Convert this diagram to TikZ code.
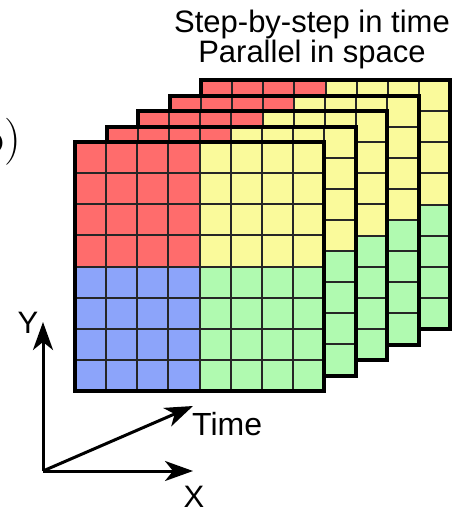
\documentclass[tikz,border=0pt]{standalone}
\usepackage{fontspec}
\newfontfamily\labelfont{Liberation Sans}
\usetikzlibrary{arrows.meta}
\definecolor{cellred}{RGB}{255,108,108}
\definecolor{cellyellow}{RGB}{250,250,155}
\definecolor{cellblue}{RGB}{140,164,250}
\definecolor{cellgreen}{RGB}{176,250,176}

\begin{document}
\begin{tikzpicture}[x=1pt,y=-1pt,
  gridline/.style={line width=2pt,black!85},
  frameline/.style={line width=4pt,black},
  axisarrow/.style={line width=3pt,-{Stealth[length=28pt,width=20pt,inset=8pt]}},
  lbl/.style={font=\labelfont\fontsize{31}{36}\selectfont}]
\useasboundingbox[fill=white] (0,0) rectangle (458,507);
% cut-off panel tag at the left edge
\node[anchor=base east,inner sep=0pt,font=\fontsize{47}{50}\selectfont] (tag) at (21,153) {b)};
% stacked panels, back to front
\foreach \k in {4,3,2,1,0}{
  \begin{scope}[shift={({75+31.5*\k},{142-15.5*\k})}]
    \fill[cellred] (0,0) rectangle (124.5,124.5);
    \fill[cellyellow] (124.5,0) rectangle (249,124.5);
    \fill[cellblue] (0,124.5) rectangle (124.5,249);
    \fill[cellgreen] (124.5,124.5) rectangle (249,249);
    \foreach \i in {1,...,7}{
      \draw[gridline] ({31.125*\i},0) -- ({31.125*\i},249);
      \draw[gridline] (0,{31.125*\i}) -- (249,{31.125*\i});
    }
    \draw[frameline] (0,0) rectangle (249,249);
  \end{scope}
}
% title
\node[lbl,anchor=base] (title1) at (312,32) {Step-by-step in time};
\node[lbl,anchor=base] (title2) at (312,62) {Parallel in space};
% axes
\coordinate (origin) at (43,471);
\coordinate (yend) at (43,322);
\coordinate (xend) at (193,471);
\coordinate (tend) at (193,406);
\draw[axisarrow] (origin) -- (yend);
\draw[axisarrow] (origin) -- (xend);
\draw[axisarrow] (origin) -- (tend);
\node[lbl,anchor=base] (ylbl) at (28,333) {Y};
\node[lbl,anchor=base] (xlbl) at (194,507) {X};
\node[lbl,anchor=base west,inner sep=0pt,font=\labelfont\fontsize{32}{36}\selectfont] (tlbl) at (192,435) {Time};
\end{tikzpicture}
\end{document}
